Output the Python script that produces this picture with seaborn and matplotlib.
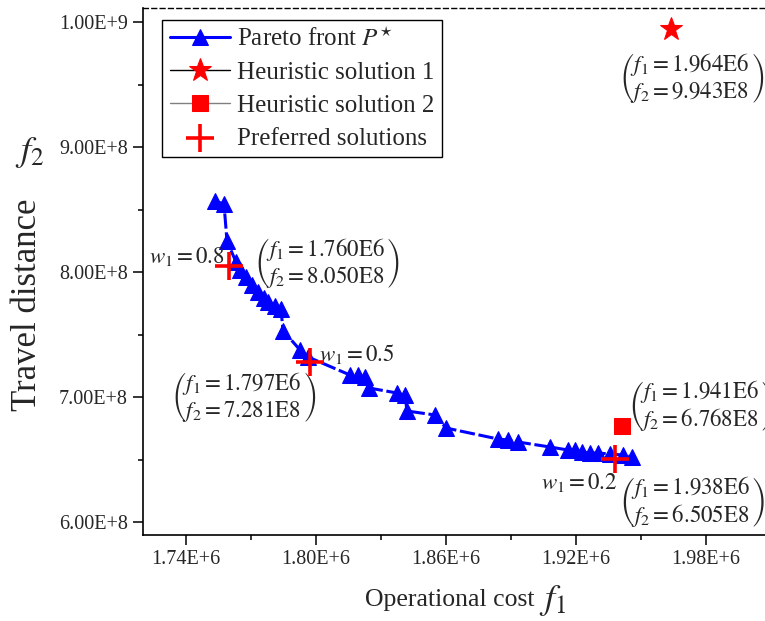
import matplotlib
matplotlib.use("Agg")
import matplotlib.pyplot as plt
import matplotlib.ticker as mticker
import seaborn as sns
import pandas as pd

# ---------------- data ----------------
pareto_f1 = [1.75338e6, 1.75754e6, 1.75892e6, 1.76308e6, 1.76492e6, 1.76769e6, 1.77046e6,
             1.77323e6, 1.77600e6, 1.77784e6, 1.78107e6, 1.78384e6, 1.78477e6, 1.78477e6,
             1.79261e6, 1.79630e6, 1.81569e6, 1.81938e6, 1.82261e6, 1.82446e6, 1.83738e6,
             1.84107e6, 1.84199e6, 1.85491e6, 1.85999e6, 1.88399e6, 1.88860e6, 1.89322e6,
             1.90799e6, 1.91629e6, 1.91952e6, 1.92275e6, 1.92645e6, 1.93014e6, 1.93568e6,
             1.94168e6, 1.94583e6]
pareto_f2 = [8.568e8, 8.544e8, 8.248e8, 8.080e8, 8.016e8, 7.960e8, 7.896e8,
             7.840e8, 7.792e8, 7.760e8, 7.728e8, 7.704e8, 7.568e8, 7.496e8,
             7.376e8, 7.320e8, 7.176e8, 7.176e8, 7.160e8, 7.072e8, 7.032e8,
             7.016e8, 6.888e8, 6.856e8, 6.752e8, 6.664e8, 6.656e8, 6.640e8,
             6.600e8, 6.576e8, 6.576e8, 6.560e8, 6.552e8, 6.552e8, 6.544e8,
             6.536e8, 6.520e8]

heur1_f1 = [1.964e6]
heur1_f2 = [9.943e8]
heur2_f1 = [1.941e6]
heur2_f2 = [6.768e8]

pref_w = [0.8, 0.5, 0.2]
pref_f1 = [1.760e6, 1.797e6, 1.938e6]
pref_f2 = [8.050e8, 7.281e8, 6.505e8]

x_ticks = [1.74e6, 1.80e6, 1.86e6, 1.92e6, 1.98e6]
y_ticks = [6.0e8, 7.0e8, 8.0e8, 9.0e8, 1.0e9]

legend_labels = [r"Pareto front $P^{\star}$", "Heuristic solution 1",
                 "Heuristic solution 2", "Preferred solutions"]

# ---------------- style ----------------
sns.set_style("ticks")
plt.rcParams["font.family"] = ["Liberation Serif", "DejaVu Serif"]
plt.rcParams["mathtext.fontset"] = "stix"

W, H = 765, 621
fig = plt.figure(figsize=(W / 100, H / 100), dpi=100)
ax = fig.add_axes([143 / W, (H - 535) / H, (W - 143) / W, 527 / H])

pareto_df = pd.DataFrame({"f1": pareto_f1, "f2": pareto_f2})
sns.lineplot(data=pareto_df, x="f1", y="f2", sort=False, ax=ax, color="#0000ff",
             linewidth=2.2, linestyle=(0, (5, 1.2)), marker="^", markersize=11,
             markeredgecolor="#0000ff", markerfacecolor="#0000ff", label=legend_labels[0],
             zorder=3)

sns.lineplot(x=heur1_f1, y=heur1_f2, ax=ax, color="black", linewidth=1.0,
             marker="*", markersize=17, markerfacecolor="#ff0000",
             markeredgecolor="#ff0000", label=legend_labels[1], zorder=4)
sns.lineplot(x=heur2_f1, y=heur2_f2, ax=ax, color="#808080", linewidth=1.0,
             marker="s", markersize=12, markerfacecolor="#ff0000",
             markeredgecolor="#ff0000", label=legend_labels[2], zorder=4)
sns.scatterplot(x=pref_f1, y=pref_f2, ax=ax, marker="+", s=20 ** 2, color="#ff0000",
                linewidth=2.6, label=legend_labels[3], zorder=5)

# ---------------- axes ----------------
ax.set_xlim(1.72016e6, 2.00721e6)
ax.set_ylim(5.896e8, 1.0112e9)
ax.set_xticks(x_ticks)
ax.set_yticks(y_ticks)
ax.xaxis.set_minor_locator(mticker.MultipleLocator(0.03e6))
ax.yaxis.set_minor_locator(mticker.MultipleLocator(0.5e8))


def sci_fmt(v, pos):
    s = f"{v:.2E}"
    m, e = s.split("E")
    return f"{m}E+{int(e)}"


ax.xaxis.set_major_formatter(mticker.FuncFormatter(sci_fmt))
ax.yaxis.set_major_formatter(mticker.FuncFormatter(sci_fmt))
ax.tick_params(axis="both", which="major", labelsize=14.5, length=7, width=1.1,
               direction="out", color="black", pad=4)
ax.tick_params(axis="both", which="minor", length=3.6, width=1.1, direction="out",
               color="black")
ax.set_xlabel("")
ax.set_ylabel("")
for side in ["left", "bottom"]:
    ax.spines[side].set_linewidth(1.2)
    ax.spines[side].set_color("black")
ax.spines["right"].set_visible(False)
ax.spines["top"].set_linestyle((0, (3.5, 2.5)))
ax.spines["top"].set_linewidth(1.0)
ax.spines["top"].set_color("black")

# ---------------- legend ----------------
leg = ax.legend(loc="upper left", bbox_to_anchor=((162 - 143) / 622, (535 - 20) / 527),
                borderaxespad=0, fontsize=18, frameon=True, fancybox=False,
                edgecolor="black", framealpha=1, labelspacing=0.42, handlelength=2.4,
                handletextpad=0.3, borderpad=0.3)
leg.get_frame().set_linewidth(1.0)
leg.get_lines()[0].set_linestyle("-")

# ---------------- annotations ----------------
ann_fs = 16.5


def pair_text(f1, f2):
    a = f"{f1 / 1e6:.3f}"
    b = f"{f2 / 1e8:.3f}"
    return (r"$\genfrac{(}{)}{0}{0}{f_1 = " + a + r"\mathrm{E}6}{f_2 = " + b +
            r"\mathrm{E}8}$")


ax.annotate(pair_text(heur1_f1[0], heur1_f2[0]), xy=(heur1_f1[0], heur1_f2[0]),
            xytext=(14.5, -35), textcoords="offset points", ha="center", va="center",
            fontsize=ann_fs)
ax.annotate(pair_text(heur2_f1[0], heur2_f2[0]), xy=(heur2_f1[0], heur2_f2[0]),
            xytext=(5, 14), textcoords="offset points", ha="left", va="center",
            fontsize=ann_fs, annotation_clip=False)

w_offsets = {0.8: ((-3.6, 7), "right"), 0.5: ((7, 6), "left"), 0.2: ((2, -17), "right")}
box_offsets = {0.8: ((18, 1.4), "left"), 0.5: ((5, -25), "right"), 0.2: ((3.0, -31), "left")}
for w, x, y in zip(pref_w, pref_f1, pref_f2):
    off, ha = w_offsets[w]
    ax.annotate(rf"$w_1 = {w}$", xy=(x, y), xytext=off, textcoords="offset points",
                ha=ha, va="center", fontsize=ann_fs)
    off, ha = box_offsets[w]
    ax.annotate(pair_text(x, y), xy=(x, y), xytext=off, textcoords="offset points",
                ha=ha, va="center", fontsize=ann_fs)

# ---------------- axis titles ----------------
fig.text(450 / W, 1 - 600 / H, "Operational cost", ha="center", va="center", fontsize=18.5)
fig.text(553 / W, 1 - 600 / H, r"$f_1$", ha="center", va="center", fontsize=26)
fig.text(28 / W, 1 - 305 / H, "Travel distance", ha="center", va="center",
         fontsize=25, rotation=90)
fig.text(30 / W, 1 - 152 / H, r"$f_2$", ha="center", va="center", fontsize=26)

fig.savefig("out.png", dpi=100)
